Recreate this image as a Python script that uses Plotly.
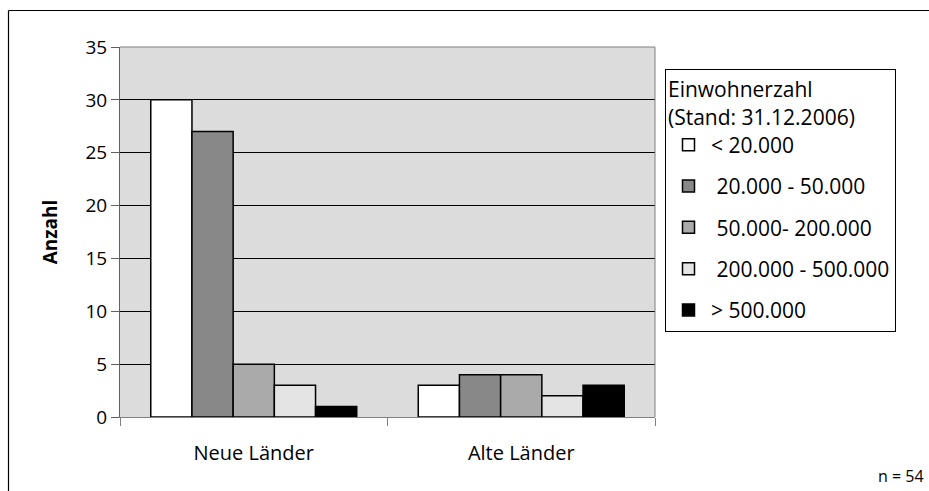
import plotly.graph_objects as go

categories = ["Neue Länder", "Alte Länder"]
series_names = ["< 20.000", " 20.000 - 50.000", " 50.000- 200.000", " 200.000 - 500.000", "> 500.000"]
values = [
    [30, 3],
    [27, 4],
    [5, 4],
    [3, 2],
    [1, 3],
]
colors = ["#FFFFFF", "#888888", "#AAAAAA", "#E4E4E4", "#000000"]

FONT = "Open Sans, Liberation Sans, sans-serif"

fig = go.Figure()
for i, (name, vals, col) in enumerate(zip(series_names, values, colors)):
    fig.add_trace(go.Bar(
        x=categories, y=vals, name=name,
        marker=dict(color=col, line=dict(color="black", width=1.5)),
        legendgroup=f"g{i}",
    ))

W, H = 929, 491
L, T = 120, 47
PR, PB = 655, 417
R, B = W - PR, H - PB
pw, ph = PR - L, PB - T

def px_x(x):
    return (x - L) / pw

def px_y(y):
    return 1 - (y - T) / ph

fig.update_layout(
    width=W, height=H,
    margin=dict(l=L, r=R, t=T, b=B, autoexpand=False),
    paper_bgcolor="white",
    plot_bgcolor="#DCDCDC",
    barmode="group",
    bargap=0.23,
    bargroupgap=0,
    font=dict(family=FONT, size=20, color="black"),
    showlegend=True,
    legend=dict(
        title=dict(text="Einwohnerzahl<br>(Stand: 31.12.2006)", font=dict(size=21)),
        x=px_x(665), y=px_y(69), xanchor="left", yanchor="top",
        bordercolor="black", borderwidth=1, bgcolor="white",
        traceorder="grouped", tracegroupgap=11, itemwidth=35,
        font=dict(size=21),
    ),
    xaxis=dict(
        showgrid=False, showline=True, linecolor="#808080", linewidth=1,
        ticks="outside", tickson="boundaries", ticklen=8, tickcolor="#808080",
        tickfont=dict(size=20), ticklabelstandoff=18,
    ),
    yaxis=dict(
        range=[0, 35], dtick=5, showgrid=True, gridcolor="black", gridwidth=1,
        showline=True, linecolor="#606060", linewidth=1, mirror=False,
        ticks="outside", ticklen=8, tickcolor="#606060",
        tickfont=dict(size=19),
        title=dict(text="<b>Anzahl</b>", font=dict(size=19), standoff=22),
        zeroline=False,
    ),
    shapes=[
        dict(type="line", xref="paper", yref="paper",
             x0=px_x(8.5), x1=px_x(8.5), y0=px_y(10.5), y1=px_y(520),
             line=dict(color="black", width=1.2)),
        dict(type="line", xref="paper", yref="paper",
             x0=px_x(8.5), x1=px_x(960), y0=px_y(10.5), y1=px_y(10.5),
             line=dict(color="black", width=1.2)),
        dict(type="line", xref="paper", yref="paper",
             x0=0, x1=1, y0=1, y1=1, line=dict(color="#808080", width=1)),
        dict(type="line", xref="paper", yref="paper",
             x0=1, x1=1, y0=0, y1=1, line=dict(color="#808080", width=1)),
    ],
    annotations=[
        dict(text="n = 54", xref="paper", yref="paper",
             x=px_x(926), y=px_y(476), xanchor="right", yanchor="middle",
             showarrow=False, font=dict(size=16)),
    ],
)

fig.write_html("out.html", config={"displayModeBar": False},
               post_script="document.body.style.margin='0';")
